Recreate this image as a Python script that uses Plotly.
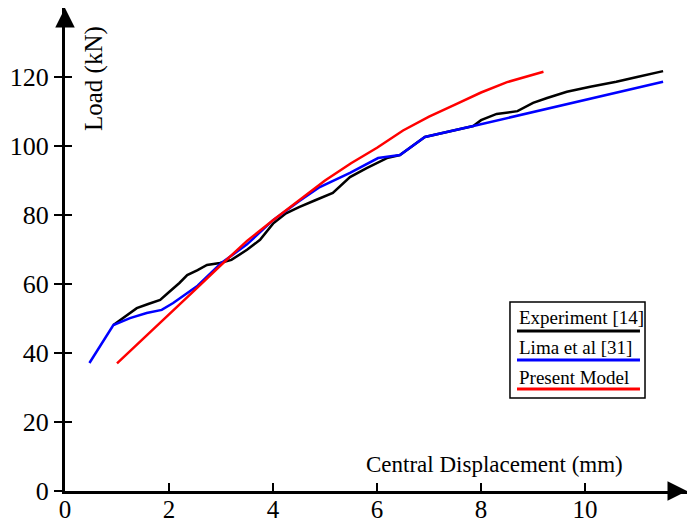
import plotly.graph_objects as go

# ---- data ----
exp_x = [0.93, 1.2, 1.38, 1.6, 1.83, 1.98, 2.2, 2.35, 2.55, 2.73, 2.98, 3.2, 3.5, 3.75, 4.0, 4.25, 4.5, 4.8, 5.15, 5.48, 5.8, 6.19, 6.44, 6.92, 7.4, 7.85, 8.0, 8.3, 8.7, 9.0, 9.27, 9.65, 10.1, 10.6, 11.0, 11.5]
exp_y = [48.1, 51.0, 53.0, 54.2, 55.4, 57.4, 60.3, 62.6, 64.0, 65.5, 66.1, 67.0, 69.9, 72.8, 77.5, 80.5, 82.3, 84.2, 86.4, 91.0, 93.6, 96.5, 97.4, 102.6, 104.2, 105.8, 107.5, 109.3, 110.1, 112.5, 113.9, 115.7, 117.2, 118.6, 120.0, 121.7]

lima_x = [0.47, 0.93, 1.25, 1.57, 1.86, 2.08, 2.55, 3.0, 3.5, 4.0, 4.5, 4.9, 5.48, 6.02, 6.44, 6.92, 7.85, 11.5]
lima_y = [37.1, 48.1, 50.1, 51.6, 52.5, 54.5, 59.5, 66.0, 71.5, 78.5, 84.0, 88.1, 92.2, 96.5, 97.4, 102.6, 105.8, 118.6]

model_x = [1.0, 1.5, 2.0, 2.5, 3.0, 3.5, 4.0, 4.5, 5.0, 5.5, 6.0, 6.5, 7.0, 7.5, 8.0, 8.5, 9.2]
model_y = [37.0, 44.0, 51.0, 58.3, 65.5, 72.5, 78.5, 84.3, 90.0, 95.0, 99.5, 104.5, 108.5, 112.0, 115.5, 118.5, 121.5]

names = ["Experiment [14]", "Lima et al [31]", "Present Model"]
colors = ["black", "blue", "red"]

x_ticks = [0, 2, 4, 6, 8, 10]
y_ticks = [0, 20, 40, 60, 80, 100, 120]

FONT = "Liberation Serif"

fig = go.Figure()
for xs, ys, nm, c in [(exp_x, exp_y, names[0], colors[0]),
                      (lima_x, lima_y, names[1], colors[1]),
                      (model_x, model_y, names[2], colors[2])]:
    fig.add_trace(go.Scatter(x=xs, y=ys, mode="lines", name=nm,
                             line=dict(color=c, width=2.5), showlegend=False))

fig.update_layout(
    width=696, height=523,
    margin=dict(l=65, r=9, t=8, b=32, autoexpand=False),
    paper_bgcolor="white", plot_bgcolor="white",
    font=dict(family=FONT, size=26, color="black"),
    xaxis=dict(range=[0, 11.96], tickvals=x_ticks, showgrid=False, zeroline=False,
               showline=True, linecolor="black", linewidth=3, automargin=False,
               ticks="inside", ticklen=8, tickwidth=1.5, tickcolor="black",
               ticklabelstandoff=-6,
               tickfont=dict(family=FONT, size=25)),
    yaxis=dict(range=[0, 140], tickvals=y_ticks, showgrid=False, zeroline=False,
               showline=True, linecolor="black", linewidth=3, automargin=False,
               ticks="outside", ticklen=8, tickwidth=1.5, tickcolor="black",
               tickfont=dict(family=FONT, size=26)),
    yaxis2=dict(range=[0, 140], tickvals=y_ticks, overlaying="y", side="left",
                showgrid=False, zeroline=False, showline=False, automargin=False,
                ticks="inside", ticklen=7, tickwidth=1.5, tickcolor="black",
                showticklabels=False),
)
# dummy invisible trace to activate yaxis2
fig.add_trace(go.Scatter(x=[None], y=[None], yaxis="y2", showlegend=False, hoverinfo="skip"))

# axis arrowheads
fig.add_annotation(x=1, y=0, xref="paper", yref="paper", ax=-14, ay=0, text="",
                   showarrow=True, arrowhead=2, arrowsize=1.3, arrowwidth=3, arrowcolor="black")
fig.add_annotation(x=0, y=1, xref="paper", yref="paper", ax=0, ay=14, text="",
                   showarrow=True, arrowhead=2, arrowsize=1.3, arrowwidth=3, arrowcolor="black")

# axis titles
fig.add_annotation(x=0.0466, y=0.855, xref="paper", yref="paper", text="Load (kN)",
                   xanchor="center", yanchor="middle",
                   textangle=-90, showarrow=False, font=dict(family=FONT, size=25))
fig.add_annotation(x=0.691, y=0.054, xref="paper", yref="paper", text="Central Displacement (mm)",
                   xanchor="center", yanchor="middle",
                   showarrow=False, font=dict(family=FONT, size=23))

# custom legend (text with coloured underline)
fig.add_shape(type="rect", xref="paper", yref="paper", x0=0.7154, x1=0.9325, y0=0.1925, y1=0.3913,
              line=dict(color="black", width=1.5), fillcolor="white", layer="above")
text_y = [0.3582, 0.2961, 0.2340]
line_y = [0.3313, 0.2712, 0.2112]
for nm, c, ty, ly in zip(names, colors, text_y, line_y):
    fig.add_annotation(x=0.7267, y=ty, xref="paper", yref="paper", text=nm, xanchor="left",
                       yanchor="middle", showarrow=False, font=dict(family=FONT, size=19, color="black"))
    fig.add_shape(type="line", xref="paper", yref="paper", x0=0.7267, x1=0.9244, y0=ly, y1=ly,
                  line=dict(color=c, width=3), layer="above")

fig.write_html("out.html")
